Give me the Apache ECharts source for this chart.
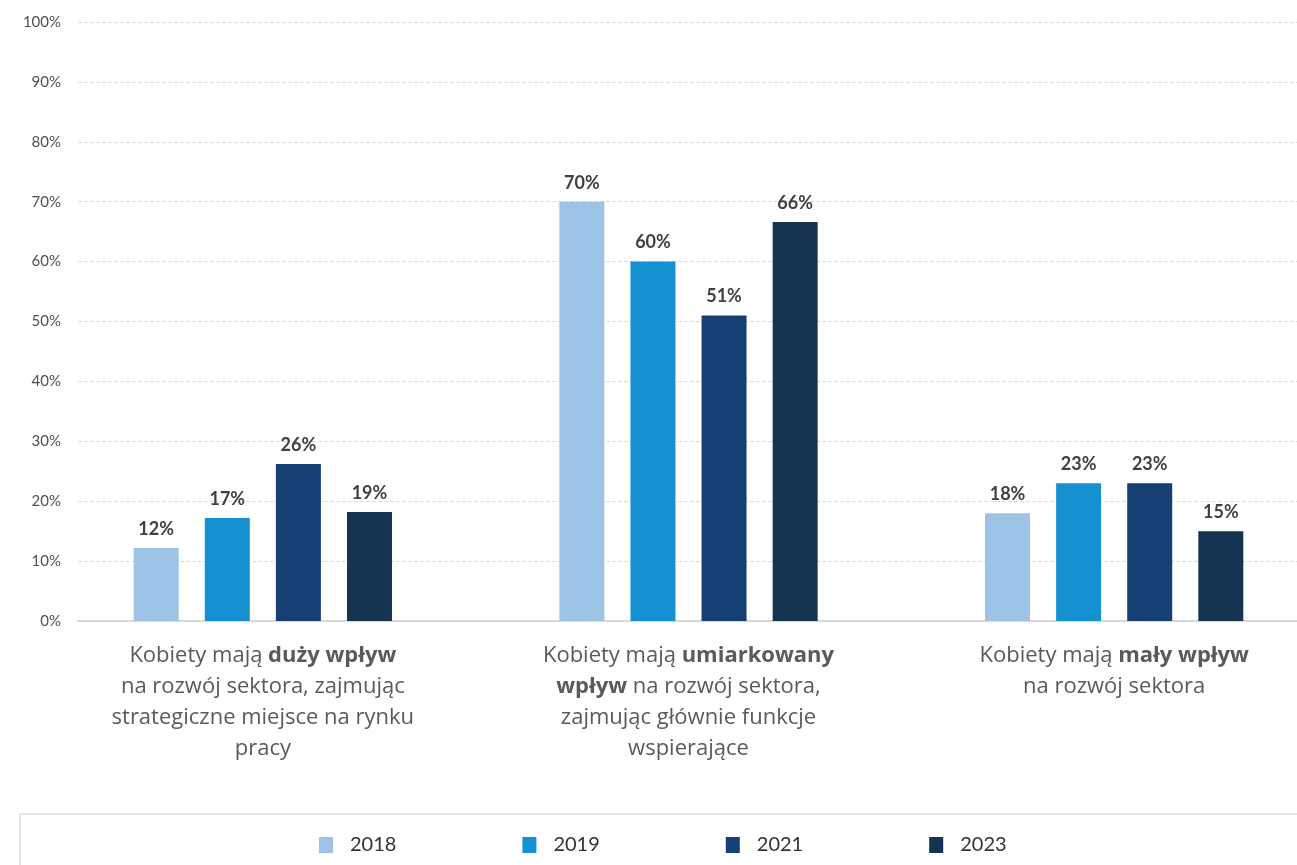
<!DOCTYPE html>
<html><head><meta charset="utf-8">
<script src="https://cdn.jsdelivr.net/npm/echarts@6/dist/echarts.min.js"></script>
<style>html,body{margin:0;padding:0;background:#fff;overflow:hidden}#c{width:1330px;height:865px}</style>
</head><body><div id="c"></div>
<script>
const categories = [
  'Kobiety mają {b|duży wpływ}\nna rozwój sektora, zajmując\nstrategiczne miejsce na rynku\npracy',
  'Kobiety mają {b|umiarkowany}\n{b|wpływ} na rozwój sektora,\nzajmując głównie funkcje\nwspierające',
  'Kobiety mają {b|mały wpływ}\nna rozwój sektora'
];
const years = ['2018', '2019', '2021', '2023'];
const colors = ['#9DC3E6', '#1591D1', '#163F73', '#153452'];
const v2018 = [12.2, 70, 18];
const v2019 = [17.2, 60, 23];
const v2021 = [26.2, 51, 23];
const v2023 = [18.2, 66.6, 15];
const l2018 = ['12%', '70%', '18%'];
const l2019 = ['17%', '60%', '23%'];
const l2021 = ['26%', '51%', '23%'];
const l2023 = ['19%', '66%', '15%'];
const yTicks = [0, 10, 20, 30, 40, 50, 60, 70, 80, 90, 100];

const values = [v2018, v2019, v2021, v2023];
const labels = [l2018, l2019, l2021, l2023];
const FONT = 'Lato, "Open Sans", sans-serif';
const CFONT = '"Open Sans", sans-serif';

const chart = echarts.init(document.getElementById('c'));
chart.setOption({
  animation: false,
  grid: [
    {left: 50, right: 3, top: 22, bottom: 244},
    {left: 78, right: 0, top: 22, bottom: 244}
  ],
  xAxis: [
    {gridIndex: 0, type: 'category', data: categories,
     axisLine: {show: false}, axisTick: {show: false},
     axisLabel: {margin: 19, interval: 0, color: '#5a5a5a', fontFamily: CFONT, fontSize: 22, lineHeight: 31,
       rich: {b: {fontWeight: 'bold', color: '#5a5a5a', fontFamily: CFONT, fontSize: 22, lineHeight: 31}}}},
    {gridIndex: 1, type: 'category', data: ['a'], axisTick: {show: false}, axisLabel: {show: false},
     axisLine: {show: true, lineStyle: {color: '#d9d9d9', width: 2}}}
  ],
  yAxis: [
    {gridIndex: 0, type: 'value', min: 0, max: 100, interval: 10, show: false, splitLine: {show: false}},
    {gridIndex: 1, type: 'value', min: yTicks[0], max: yTicks[yTicks.length - 1], interval: 10,
     axisLine: {show: false}, axisTick: {show: false},
     axisLabel: {margin: 17, color: '#505050', fontFamily: FONT, fontSize: 15, formatter: '{value}%'},
     splitLine: {lineStyle: {color: '#dddddd', type: [4, 2], width: 1}}}
  ],
  legend: {
    bottom: 5, left: 314, itemWidth: 14, itemHeight: 16, itemGap: 126,
    icon: 'rect',
    textStyle: {color: '#333', fontFamily: FONT, fontSize: 20, padding: [0, 0, 0, 12]},
    data: years
  },
  graphic: [{type: 'rect', shape: {x: 20, y: 814, width: 1330, height: 100},
    style: {fill: 'none', stroke: '#cccccc', lineWidth: 1}, silent: true}],
  series: years.map((y, i) => ({
    name: y, type: 'bar', xAxisIndex: 0, yAxisIndex: 0,
    data: values[i], barWidth: 45, barGap: '58%',
    itemStyle: {color: colors[i]},
    label: {show: true, position: 'top', distance: 10, color: '#404040', fontWeight: 'bold',
      fontFamily: FONT, fontSize: 18,
      formatter: p => labels[i][p.dataIndex]}
  }))
});
</script></body></html>
